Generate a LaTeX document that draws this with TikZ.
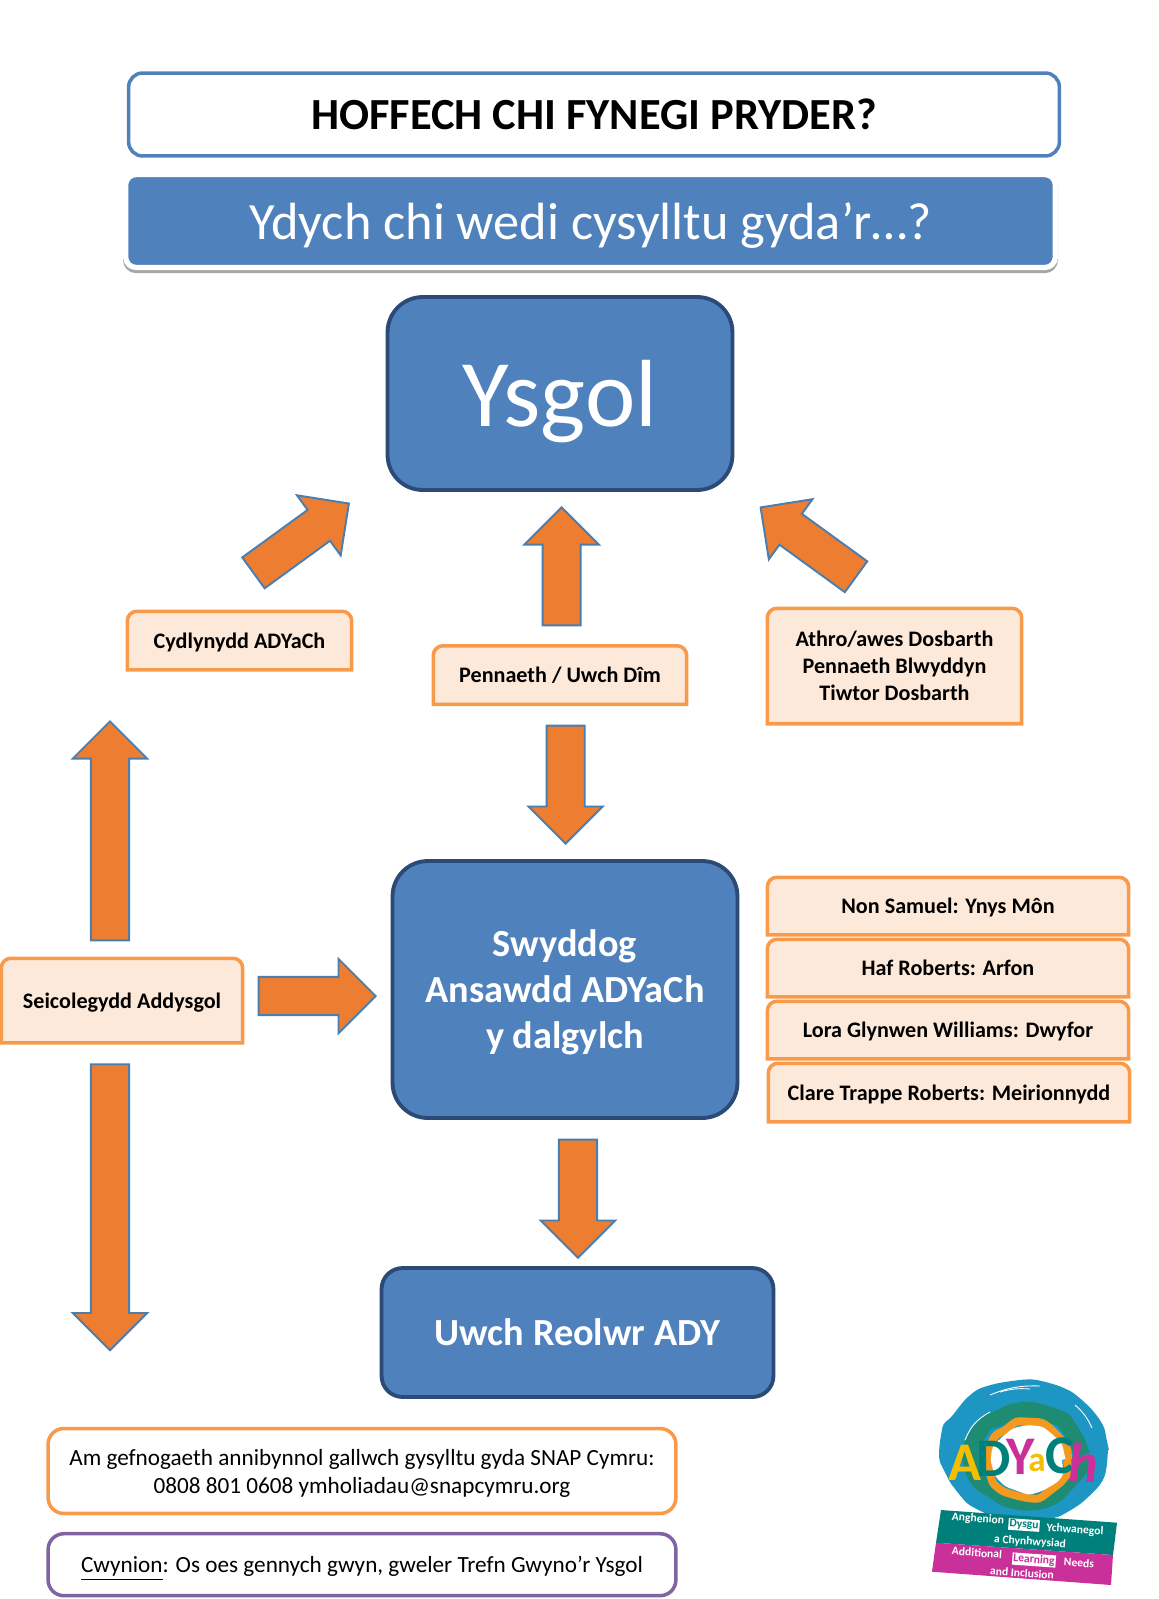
\documentclass[tikz,border=0pt]{standalone}
\usepackage{fontspec}
\setmainfont{Carlito}
\usetikzlibrary{shapes.arrows, decorations.pathmorphing}

\definecolor{hdblue}{HTML}{4F81BD}
\definecolor{hdedge}{HTML}{2B4A75}
\definecolor{peach}{HTML}{FDE9D9}
\definecolor{softline}{HTML}{F9994A}
\definecolor{arrowfill}{HTML}{ED7D31}
\definecolor{arrowedge}{HTML}{4A7EAF}
\definecolor{violet}{HTML}{8064A2}
\definecolor{logoblue}{HTML}{1E96C3}
\definecolor{logogreen}{HTML}{1E8C73}
\definecolor{logoorange}{HTML}{F39A1E}
\definecolor{logoteal}{HTML}{00807A}
\definecolor{logopink}{HTML}{C9309A}
\definecolor{logoyellow}{HTML}{F5BE00}

\makeatletter
\pgfdeclareshape{softtop}{
  \inheritsavedanchors[from=rectangle]
  \inheritanchorborder[from=rectangle]
  \inheritanchor[from=rectangle]{center}
  \backgroundpath{
    \southwest \pgf@xa=\pgf@x \pgf@ya=\pgf@y
    \northeast \pgf@xb=\pgf@x \pgf@yb=\pgf@y
    \pgfpathmoveto{\pgfpoint{\pgf@xa}{\pgf@ya}}
    \pgfsetcornersarced{\pgfpoint{5.5pt}{5.5pt}}
    \pgfpathlineto{\pgfpoint{\pgf@xa}{\pgf@yb}}
    \pgfpathlineto{\pgfpoint{\pgf@xb}{\pgf@yb}}
    \pgfsetcornersarced{\pgfpointorigin}
    \pgfpathlineto{\pgfpoint{\pgf@xb}{\pgf@ya}}
    \pgfpathclose
  }
}
\makeatother

\begin{document}
\begin{tikzpicture}[x=0.02cm, y=-0.02cm,
    wh/.style 2 args={minimum width=#1*0.569pt, minimum height=#2*0.569pt},
    len/.style={minimum height=#1*0.569pt},
    titlebox/.style={rectangle, rounded corners=8pt, draw=hdblue, line width=2pt, fill=white, font=\fontsize{25.3}{30}\selectfont\bfseries},
    subbox/.style={rectangle, rounded corners=6pt, fill=hdblue, draw=white, line width=3pt, text=white, text depth=0pt, font=\fontsize{29.8}{35}\selectfont,
      preaction={draw=black!35, line width=3pt, transform canvas={yshift=-1.7pt}}},
    mainbox/.style={rectangle, rounded corners=20pt, fill=hdblue, draw=hdedge, line width=2.2pt, text=white, text depth=0pt, align=center},
    softbox/.style={softtop, fill=peach, draw=softline, line width=2pt, align=center, text depth=0pt, font=\fontsize{12.6}{15.4}\selectfont\bfseries},
    notebox/.style={rectangle, rounded corners=9pt, fill=white, line width=2pt, align=center, text depth=0pt, font=\fontsize{13.2}{16}\selectfont},
    blockarrow/.style={single arrow, draw=arrowedge, fill=arrowfill, line width=1.1pt, inner xsep=0pt, inner ysep=10.3pt, anchor=tip,
      single arrow head extend=10.3pt, single arrow head indent=0pt},
    ring/.style={decorate, decoration={random steps, segment length=7pt, amplitude=1.2pt}, rounded corners=2pt},
    streak/.style={white, line width=0.5pt},
    logoletter/.style={inner sep=0pt, font=\fontsize{31}{31}\selectfont\bfseries},
    logotext/.style={inner sep=0.6pt, rotate=-4, text=white, font=\fontsize{6.6}{8}\selectfont\bfseries}]

  \useasboundingbox (0,0) rectangle (1159,1599);

  \node[titlebox, wh={931}{83}] (title) at (594,114.5) {HOFFECH CHI FYNEGI PRYDER?};
  \node[subbox, wh={930}{93}] (sub) at (590.5,221) {Ydych chi wedi cysylltu gyda’r…?};

  \node[mainbox, wh={345}{193}, font=\fontsize{54.3}{60}\selectfont] (ysgol) at (560,393.5) {Ysgol};
  \node[mainbox, wh={345}{257}, font=\fontsize{21.8}{26.2}\selectfont\bfseries] (swyddog) at (565,989.5) {Swyddog\\Ansawdd ADYaCh\\y dalgylch};
  \node[mainbox, wh={392}{129}, rounded corners=12pt, font=\fontsize{21.8}{26}\selectfont\bfseries] (reolwr) at (577.5,1332.5) {Uwch Reolwr ADY};

  \node[softbox, wh={221}{55}] (cydlynydd) at (239.5,640.5) {Cydlynydd ADYaCh};
  \node[softbox, wh={250}{55}] (pennaeth) at (560,675) {Pennaeth / Uwch Dîm};
  \node[softbox, wh={251}{112}] (athro) at (894.5,666) {Athro/awes Dosbarth\\Pennaeth Blwyddyn\\Tiwtor Dosbarth};
  \node[softbox, wh={238}{81}] (seicolegydd) at (122,1000.5) {Seicolegydd Addysgol};

  \node[softbox, wh={358}{54}] (non) at (948,906) {Non Samuel: Ynys Môn};
  \node[softbox, wh={358}{54}] (haf) at (948,968) {Haf Roberts: Arfon};
  \node[softbox, wh={358}{54}] (lora) at (948,1030) {Lora Glynwen Williams: Dwyfor};
  \node[softbox, wh={358}{55}] (clare) at (949,1092.5) {Clare Trappe Roberts: Meirionnydd};

  \node[notebox, draw=softline, wh={628}{85}] (snap) at (362,1471) {Am gefnogaeth annibynnol gallwch gysylltu gyda SNAP Cymru:\\0808 801 0608 ymholiadau@snapcymru.org};
  \node[notebox, draw=violet, wh={628}{62}] (cwynion) at (362,1564.7) {\underline{Cwynion}: Os oes gennych gwyn, gweler Trefn Gwyno’r Ysgol};

  \node[blockarrow, len=118, rotate=36] (toleft) at (350,502.7) {};
  \node[blockarrow, len=118, rotate=90] (tomid) at (561.6,506) {};
  \node[blockarrow, len=118, rotate=144] (toright) at (759.5,506.6) {};
  \node[blockarrow, len=118, rotate=-90] (downone) at (565.7,845) {};
  \node[blockarrow, len=219, rotate=90] (upleft) at (110,720) {};
  \node[blockarrow, len=286, rotate=-90] (downleft) at (110,1351.5) {};
  \node[blockarrow, len=117, rotate=0] (across) at (377,996) {};
  \node[blockarrow, len=118, rotate=-90] (downtwo) at (578,1259) {};

  \fill[logoblue, ring] (1024,1450) ellipse [x radius=84, y radius=70];
  \draw[logogreen, ring, line width=9pt] (1026,1456) ellipse [x radius=53, y radius=45];
  \draw[logoorange, ring, line width=4.5pt] (1028,1460) ellipse [x radius=39, y radius=37];
  \fill[white, ring] (1028,1460) ellipse [x radius=34, y radius=32];
  \draw[streak] (990,1395) to[bend left=12] (1040,1386);
  \draw[streak] (1000,1392) to[bend left=10] (1030,1389);
  \draw[streak] (1075,1405) to[bend left=12] (1092,1428);
  \draw[streak] (965,1440) to[bend left=20] (990,1412);

  \node[logoletter, text=logoyellow] (adyA) at (965,1463) {A};
  \node[logoletter, text=logoteal] (adyD) at (994,1459) {D};
  \node[logoletter, text=logopink] (adyY) at (1021,1457) {Y};
  \node[logoletter, text=logoyellow, font=\fontsize{20}{20}\selectfont\bfseries] (adya) at (1037,1463) {a};
  \node[logoletter, text=logoteal] (adyC) at (1060,1456) {C};
  \node[logoletter, text=logopink, font=\fontsize{32}{32}\selectfont\bfseries\itshape] (adyh) at (1083,1463) {h};

  \fill[logoteal] (941,1510) -- (1117,1522.7) -- (1113,1555) -- (936,1542.7) -- cycle;
  \fill[logopink] (936,1542.7) -- (1113,1555) -- (1111,1585) -- (932,1571.7) -- cycle;

  \node[logotext] (anghenion) at (978,1519) {Anghenion};
  \node[logotext, fill=white, text=logoteal] (dysgu) at (1024,1525) {Dysgu};
  \node[logotext] (ychwanegol) at (1075,1530) {Ychwanegol};
  \node[logotext] (chynhwysiad) at (1030,1542) {a Chynhwysiad};
  \node[logotext] (additional) at (977,1552.7) {Additional};
  \node[logotext, fill=white, text=logopink] (learning) at (1034,1560) {Learning};
  \node[logotext] (needs) at (1079,1562.7) {Needs};
  \node[logotext] (inclusion) at (1022,1573) {and Inclusion};
\end{tikzpicture}
\end{document}
